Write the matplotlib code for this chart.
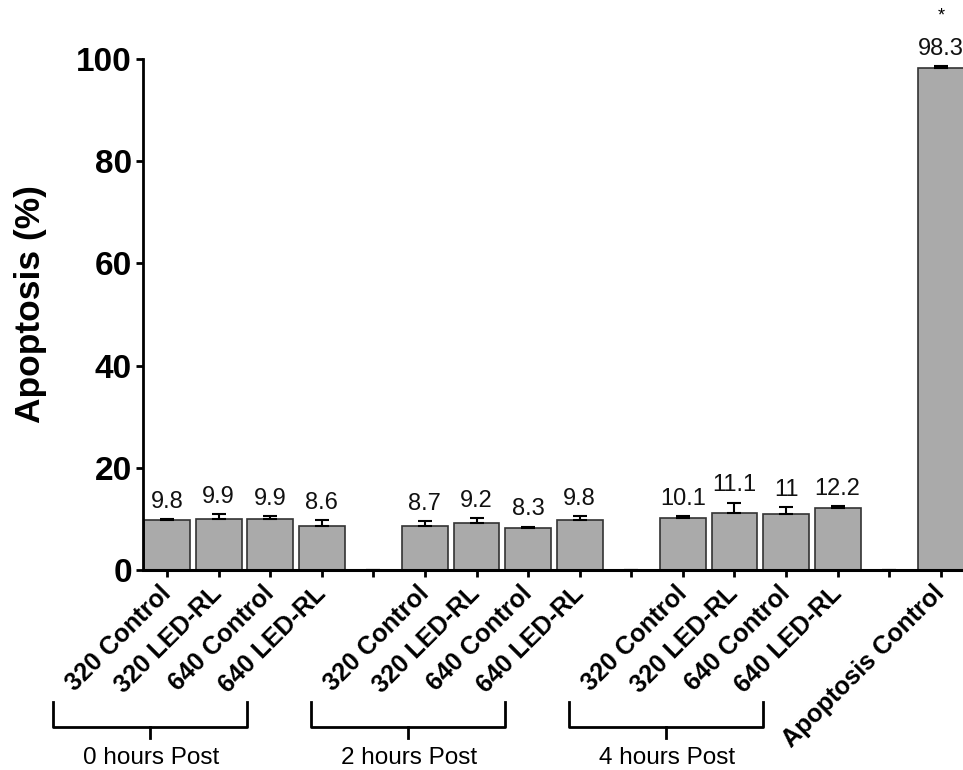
import numpy as np
import matplotlib
matplotlib.use("Agg")
import matplotlib.pyplot as plt
import matplotlib.transforms as mtransforms

plt.rcParams["font.family"] = ["Liberation Sans", "DejaVu Sans"]

# Data (spacer slots between groups have value 0 and no label)
labels = ["320 Control", "320 LED-RL", "640 Control", "640 LED-RL", "",
          "320 Control", "320 LED-RL", "640 Control", "640 LED-RL", "",
          "320 Control", "320 LED-RL", "640 Control", "640 LED-RL", "",
          "Apoptosis Control"]
values = [9.8, 9.9, 9.9, 8.6, 0,
          8.7, 9.2, 8.3, 9.8, 0,
          10.1, 11.1, 11.0, 12.2, 0,
          98.3]
errors = [0.2, 1.0, 0.7, 1.1, 0,
          0.85, 1.0, 0.2, 0.85, 0,
          0.5, 2.1, 1.3, 0.3, 0,
          0.3]
value_text = ["9.8", "9.9", "9.9", "8.6", "",
              "8.7", "9.2", "8.3", "9.8", "",
              "10.1", "11.1", "11", "12.2", "",
              "98.3"]
signif = ["", "", "", "", "", "", "", "", "", "", "", "", "", "", "", "*"]
groups = ["0 hours Post", "2 hours Post", "4 hours Post"]

x = np.arange(len(values))

fig = plt.figure(figsize=(9.63, 7.7), dpi=100)
ax = fig.add_axes([0.1485, 0.2597, 0.8515, 0.6636])

ax.bar(x, values, width=0.89, color="#aaaaaa", edgecolor="#333333", linewidth=1.2, zorder=2)
ax.errorbar(x, values, yerr=[np.zeros(len(errors)), errors], fmt="none",
            ecolor="black", elinewidth=1.5, capsize=5, capthick=1.5, zorder=3)

for xi, v, e, t, s in zip(x, values, errors, value_text, signif):
    if t:
        ax.annotate(t, (xi, v + e), xytext=(0, 8), textcoords="offset points",
                    ha="center", va="baseline", fontsize=17, color="#111111",
                    annotation_clip=False)
    if s:
        ax.annotate(s, (xi, v + e), xytext=(0, 33), textcoords="offset points",
                    ha="center", va="baseline", fontsize=13, annotation_clip=False)

ax.set_xlim(-0.465, 15.43)
ax.set_ylim(0, 100)
ax.set_yticks([0, 20, 40, 60, 80, 100])
ax.set_xticks(x)
ax.set_xticklabels(labels, rotation=45, ha="right", va="center",
                   rotation_mode="anchor", fontsize=18, fontweight="bold")
ax.tick_params(axis="x", direction="out", length=5, width=2, pad=9)
ax.tick_params(axis="y", direction="out", length=5, width=2, pad=3,
               labelsize=24, labelcolor="black")
for lab in ax.get_yticklabels():
    lab.set_fontweight("bold")

ax.spines["top"].set_visible(False)
ax.spines["right"].set_visible(False)
ax.spines["left"].set_linewidth(2)
ax.spines["bottom"].set_linewidth(2.2)
ax.set_ylabel("Apoptosis (%)", fontsize=25.5, fontweight="bold")
ax.yaxis.set_label_coords(-0.117, 0.52)

# group brackets below the rotated labels
trans = mtransforms.blended_transform_factory(ax.transData, ax.transAxes)
for i, g in enumerate(groups):
    left = 5 * i - 2.2
    right = 5 * i + 1.55
    mid = (left + right) / 2
    ax.plot([left, left, right, right], [-0.258, -0.307, -0.307, -0.258],
            color="black", linewidth=2, transform=trans, clip_on=False)
    ax.plot([mid, mid], [-0.307, -0.329], color="black", linewidth=2,
            transform=trans, clip_on=False)
    ax.text(mid + 0.02, -0.368, g, transform=trans, ha="center", va="center",
            fontsize=17.5)

fig.savefig("out.png", dpi=100)
